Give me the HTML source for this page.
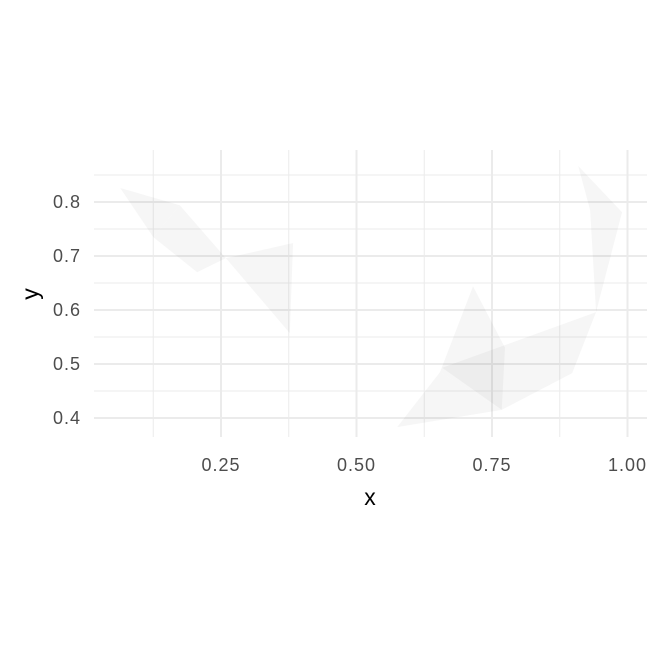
<!DOCTYPE html>
<html><head><meta charset="utf-8"><style>
body{margin:0;background:#fff}
svg text{font-family:"Liberation Sans",sans-serif}
</style></head><body>
<svg id="c" width="662" height="662"></svg>
<script>
const xMajor=[0.25,0.5,0.75,1.0];
const xMinor=[0.125,0.375,0.625,0.875];
const yMajor=[0.4,0.5,0.6,0.7,0.8];
const yMinor=[0.45,0.55,0.65,0.75,0.85];
const xLabels=["0.25","0.50","0.75","1.00"];
const yLabels=["0.4","0.5","0.6","0.7","0.8"];
const polyX=[
 [0.064,0.174,0.125],
 [0.174,0.259,0.206,0.125],
 [0.259,0.383,0.377],
 [0.909,0.990,0.942,0.931],
 [0.658,0.942,0.898,0.768],
 [0.715,0.774,0.768,0.654],
 [0.654,0.768,0.575]
];
const polyY=[
 [0.826,0.794,0.735],
 [0.794,0.696,0.670,0.735],
 [0.696,0.724,0.557],
 [0.867,0.781,0.596,0.785],
 [0.493,0.596,0.483,0.415],
 [0.644,0.530,0.415,0.485],
 [0.485,0.415,0.383]
];
const sx=v=>221+(v-0.25)*542;
const sy=v=>418-(v-0.4)*540;
const svg=document.getElementById('c');
const NS="http://www.w3.org/2000/svg";
function mk(t,a){const e=document.createElementNS(NS,t);for(const k in a)e.setAttribute(k,a[k]);svg.appendChild(e);return e;}
const L=94,R=647,T=150,B=437;
xMinor.forEach(v=>{const e=mk('line',{x1:sx(v),x2:sx(v),y1:T,y2:B,stroke:'#ebebeb','stroke-width':1});

});
yMinor.forEach(v=>{const e=mk('line',{x1:L,x2:R,y1:sy(v),y2:sy(v),stroke:'#ebebeb','stroke-width':1});

});
xMajor.forEach((v,i)=>{const e=mk('line',{x1:sx(v),x2:sx(v),y1:T,y2:B,stroke:'#ebebeb','stroke-width':2});


const t=mk('text',{x:sx(v),y:471,'text-anchor':'middle','font-size':18,'letter-spacing':1,fill:'#4d4d4d'});t.textContent=xLabels[i];

});
yMajor.forEach((v,i)=>{const e=mk('line',{x1:L,x2:R,y1:sy(v),y2:sy(v),stroke:'#ebebeb','stroke-width':2});


const t=mk('text',{x:81,y:sy(v)+6,'text-anchor':'end','font-size':18,'letter-spacing':1,fill:'#4d4d4d'});t.textContent=yLabels[i];

});
polyX.forEach((xs,i)=>{const pts=xs.map((x,j)=>sx(x)+','+sy(polyY[i][j])).join(' ');
const p=mk('polygon',{points:pts,fill:'rgba(0,0,0,0.035)'});

});
const xt=mk('text',{x:370,y:505,'text-anchor':'middle','font-size':23,fill:'#000'});xt.textContent='x';


const yt=mk('text',{x:38,y:294,'text-anchor':'middle','font-size':23,fill:'#000',transform:'rotate(-90 38 294)'});yt.textContent='y';


</script>
</body></html>
